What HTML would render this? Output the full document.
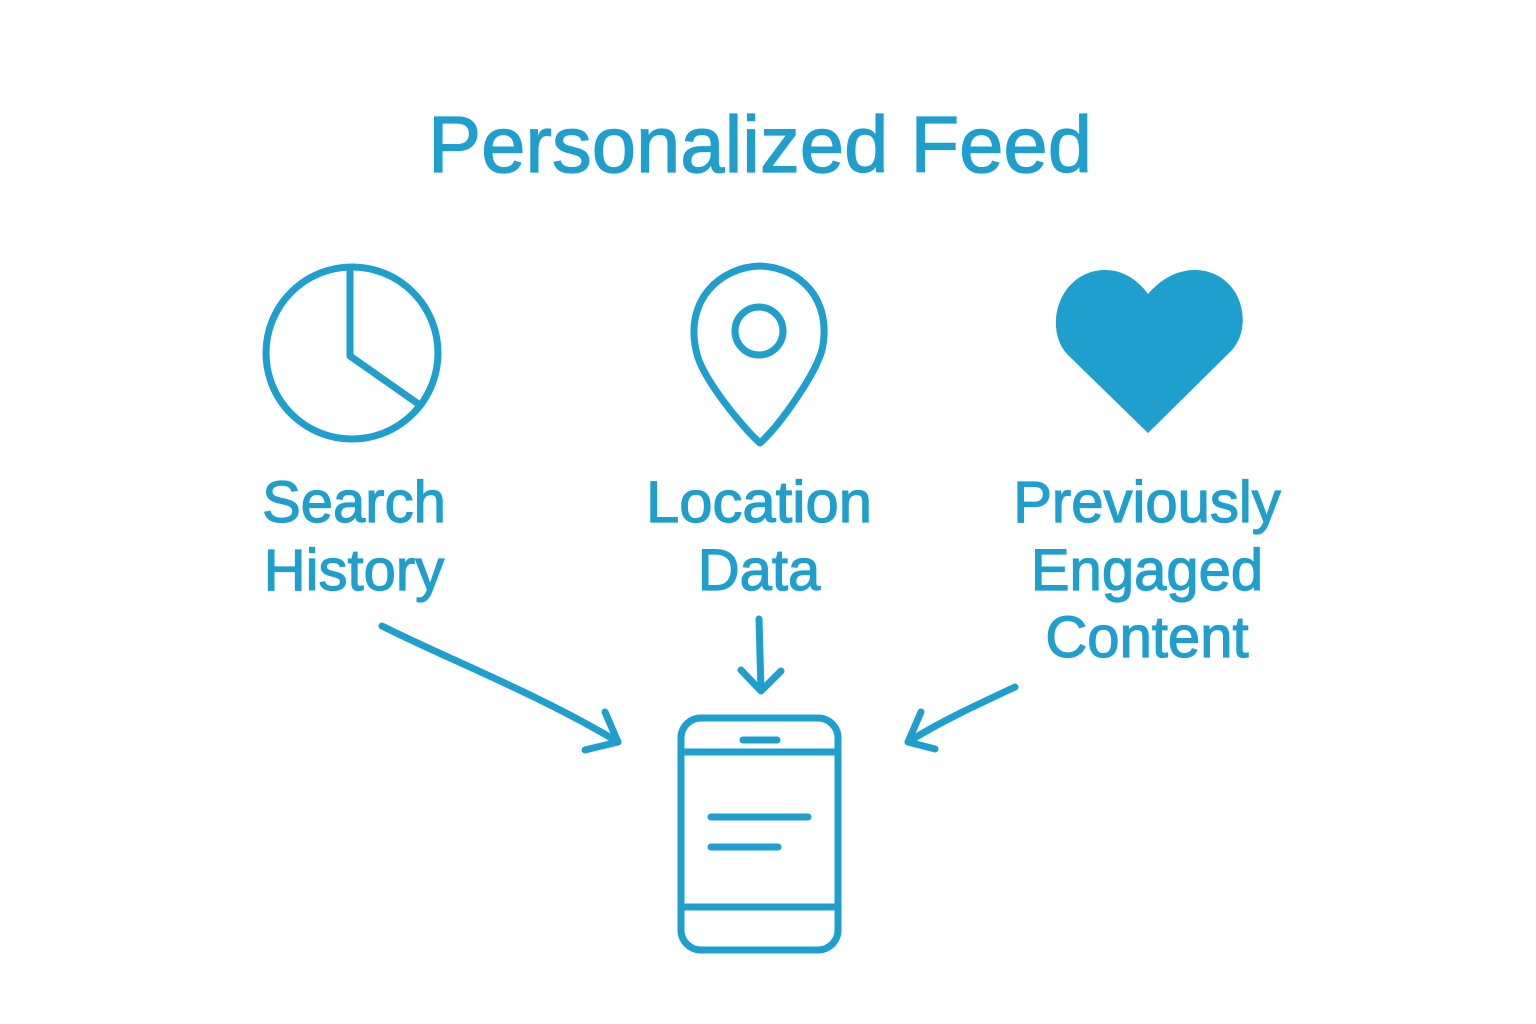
<!DOCTYPE html>
<html><head><meta charset="utf-8"><style>
html,body{margin:0;padding:0;background:#fff;}
svg{display:block}
text{font-family:"Liberation Sans",sans-serif;fill:#1f9fcd;stroke:#1f9fcd;stroke-width:1.2px;}
</style></head><body>
<svg width="1536" height="1024" viewBox="0 0 1536 1024">
<text x="760" y="172" font-size="80" text-anchor="middle" textLength="664" lengthAdjust="spacingAndGlyphs">Personalized Feed</text>
<g fill="none" stroke="#1f9fcd" stroke-width="7" stroke-linecap="round" stroke-linejoin="round">
<circle cx="352" cy="353" r="86"/>
<path d="M350 268 L350 356 L417 403"/>
<path d="M760 443 C740 425 700 375 696 350 C685 300 720 267 760 266 C800 267 833 300 822 350 C815 375 780 425 760 443 Z"/>
<circle cx="759" cy="331" r="24"/>
<path d="M382 626 C450 660 540 695 618 742"/>
<path d="M605 712 L618 742 L585 750"/>
<path d="M759 619 L761 690"/>
<path d="M741 670 L761 691 L781 671"/>
<path d="M1015 687 C970 708 940 722 908 742"/>
<path d="M921 712 L908 742 L935 749"/>
<rect x="681" y="718" width="157" height="232" rx="20"/>
<path d="M683 752 L836 752 M683 907 L836 907"/>
<path d="M743 740 L777 740"/>
<path d="M711 817 L808 817 M711 847 L778 847"/>
</g>
<path d="M1148 433 L1068 355 C1045 332 1055 280 1095 271 C1120 266 1138 280 1148 294 C1160 280 1180 266 1205 271 C1245 280 1253 330 1230 352 Z" fill="#1f9fcd"/>
<g font-size="58" text-anchor="middle">
<text x="354" y="522">Search</text>
<text x="354" y="590">History</text>
<text x="759" y="522" textLength="226" lengthAdjust="spacingAndGlyphs">Location</text>
<text x="759" y="590">Data</text>
<text x="1147" y="522">Previously</text>
<text x="1147" y="590">Engaged</text>
<text x="1147" y="657">Content</text>
</g>
</svg>
</body></html>
